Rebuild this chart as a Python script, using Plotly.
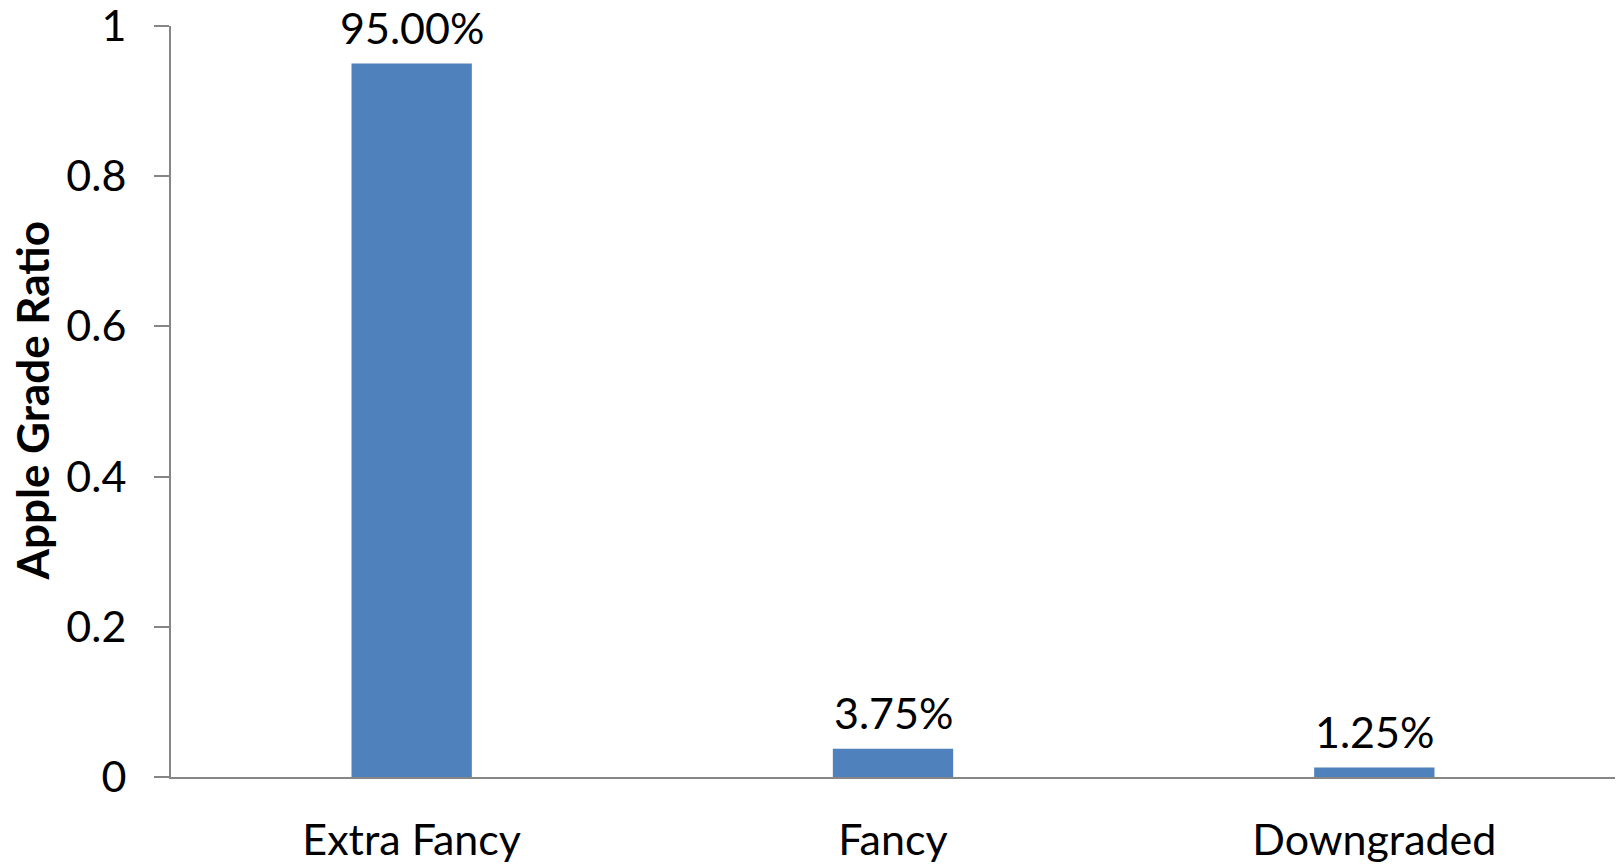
import plotly.graph_objects as go

# Share of apples by grade
grades = ["Extra Fancy", "Fancy", "Downgraded"]
ratios = [0.95, 0.0375, 0.0125]

y_ticks = [0, 0.2, 0.4, 0.6, 0.8, 1]
y_tick_text = ["0", "0.2", "0.4", "0.6", "0.8", "1"]

BAR_COLOR = "#4F81BD"
AXIS_COLOR = "#868686"
FONT = "Lato"
TEXT_SIZE = 43

fig = go.Figure(
    go.Bar(
        x=grades,
        y=ratios,
        marker=dict(color=BAR_COLOR, line=dict(width=0)),
        hoverinfo="x+y",
    )
)

# Percentage labels above each bar, built from the bar values
for g, v in zip(grades, ratios):
    fig.add_annotation(
        x=g,
        y=v,
        text=f"{v * 100:.2f}%",
        showarrow=False,
        yanchor="bottom",
        height=36,
        borderpad=0,
        yshift=18,
        font=dict(family=FONT, size=TEXT_SIZE, color="#000000"),
    )

# Vertical axis title, placed left of the tick labels
fig.add_annotation(
    x=0,
    y=0.5,
    xref="paper",
    yref="paper",
    text="<b>Apple Grade Ratio</b>",
    textangle=-90,
    showarrow=False,
    xanchor="center",
    yanchor="middle",
    xshift=-140,
    font=dict(family=FONT, size=44, color="#000000"),
)

fig.update_layout(
    width=1621,
    height=865,
    margin=dict(l=171, r=6, t=26, b=88),
    paper_bgcolor="white",
    plot_bgcolor="white",
    bargap=0.75,
    showlegend=False,
    font=dict(family=FONT, size=TEXT_SIZE, color="#000000"),
)

fig.update_xaxes(
    automargin=False,
    showline=True,
    linecolor=AXIS_COLOR,
    linewidth=2,
    ticks="",
    showgrid=False,
    zeroline=False,
    ticklabelstandoff=24,
    ticklabeloverflow="allow",
    tickfont=dict(family=FONT, size=TEXT_SIZE, color="#000000"),
)

fig.update_yaxes(
    automargin=False,
    range=[0, 1],
    tickvals=y_ticks,
    ticktext=y_tick_text,
    showline=True,
    linecolor=AXIS_COLOR,
    linewidth=2,
    ticks="outside",
    ticklen=15,
    tickwidth=2,
    tickcolor=AXIS_COLOR,
    showgrid=False,
    zeroline=False,
    ticklabelstandoff=19,
    ticklabeloverflow="allow",
    tickfont=dict(family=FONT, size=TEXT_SIZE, color="#000000"),
)

fig.write_html("out.html")
